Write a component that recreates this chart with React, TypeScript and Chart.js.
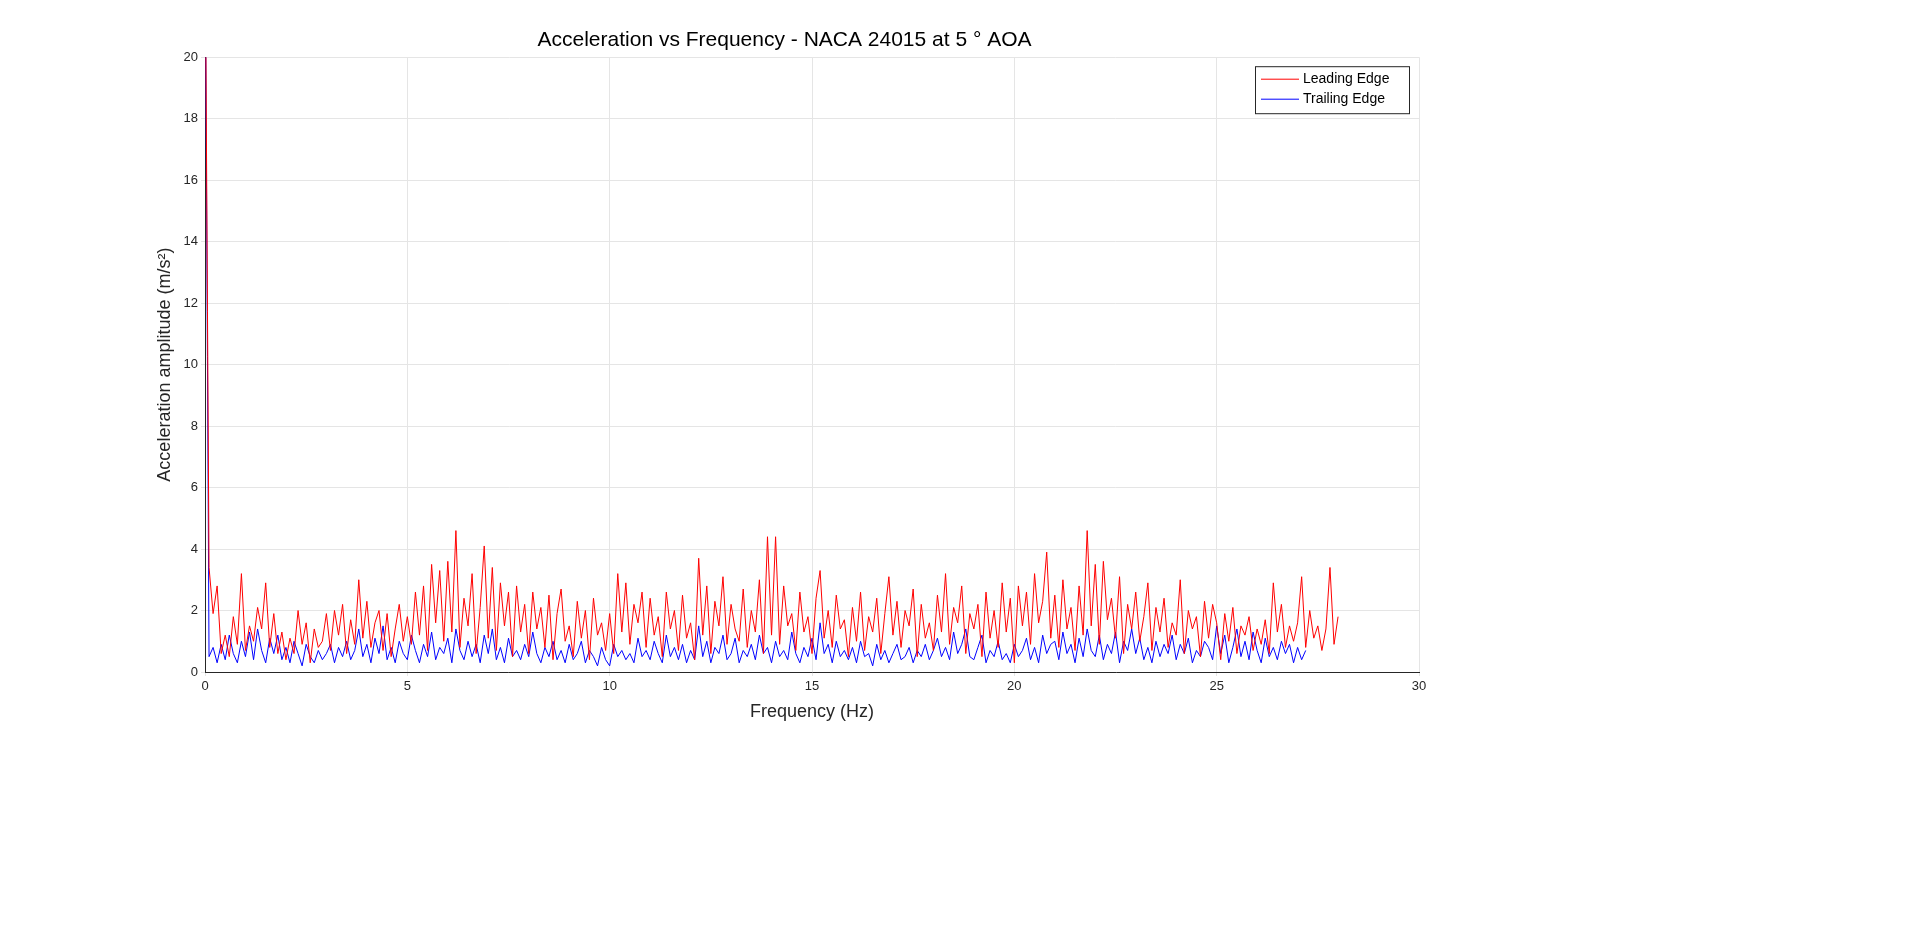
import React, { useEffect, useRef } from "react";
import { Chart, registerables } from "chart.js";

Chart.register(...registerables);

const freqStep = 0.1;

// values, one row per Hz (0.1 Hz spacing)
const leadingEdge = [
  25, 3.4, 1.9, 2.8, 0.6, 1.2, 0.5, 1.8, 0.9, 3.2,
  0.7, 1.5, 1.0, 2.1, 1.4, 2.9, 0.8, 1.9, 0.6, 1.3,
  0.4, 1.1, 0.6, 2.0, 0.9, 1.6, 0.3, 1.4, 0.8, 1.0,
  1.9, 0.7, 2.0, 1.2, 2.2, 0.6, 1.7, 0.9, 3.0, 1.1,
  2.3, 0.8, 1.6, 2.0, 0.7, 1.9, 0.5, 1.4, 2.2, 1.0,
  1.8, 0.9, 2.6, 1.2, 2.8, 0.7, 3.5, 1.6, 3.3, 1.0,
  3.6, 1.3, 4.6, 0.8, 2.4, 1.5, 3.2, 0.6, 2.1, 4.1,
  1.1, 3.4, 0.7, 2.9, 1.5, 2.6, 0.5, 2.8, 1.3, 2.2,
  0.6, 2.6, 1.4, 2.1, 0.8, 2.5, 0.4, 1.9, 2.7, 1.0,
  1.5, 0.5, 2.3, 1.1, 2.0, 0.4, 2.4, 1.2, 1.6, 0.7,
  1.9, 0.6, 3.2, 1.3, 2.9, 0.9, 2.2, 1.6, 2.6, 0.8,
  2.4, 1.2, 1.8, 0.5, 2.6, 1.4, 2.0, 0.7, 2.5, 1.1,
  1.6, 0.4, 3.7, 1.2, 2.8, 0.6, 2.3, 1.5, 3.1, 0.9,
  2.2, 1.4, 1.0, 2.7, 0.8, 2.0, 1.3, 3.0, 0.6, 4.4,
  1.2, 4.4, 0.9, 2.8, 1.5, 1.9, 0.7, 2.6, 1.3, 1.8,
  0.6, 2.4, 3.3, 1.1, 2.0, 0.8, 2.5, 1.4, 1.7, 0.5,
  2.1, 1.0, 2.6, 0.7, 1.8, 1.3, 2.4, 0.6, 1.9, 3.1,
  1.2, 2.3, 0.8, 2.0, 1.5, 2.7, 0.5, 2.2, 1.1, 1.6,
  0.7, 2.5, 1.3, 3.2, 0.9, 2.1, 1.6, 2.8, 0.6, 1.9,
  1.4, 2.2, 0.5, 2.6, 1.1, 2.0, 0.8, 2.9, 1.3, 2.4,
  0.3, 2.8, 1.5, 2.6, 0.9, 3.2, 1.6, 2.3, 3.9, 1.1,
  2.5, 0.8, 3.0, 1.4, 2.1, 0.7, 2.8, 1.2, 4.6, 1.5,
  3.5, 0.9, 3.6, 1.7, 2.4, 1.1, 3.1, 0.6, 2.2, 1.4,
  2.6, 1.0, 1.8, 2.9, 0.7, 2.1, 1.3, 2.4, 0.8, 1.6,
  1.2, 3.0, 0.6, 2.0, 1.4, 1.8, 0.5, 2.3, 1.1, 2.2,
  1.6, 0.4, 1.9, 1.0, 2.1, 0.6, 1.5, 1.2, 1.8, 0.7,
  1.4, 0.9, 1.7, 0.6, 2.9, 1.3, 2.2, 0.8, 1.5, 1.0,
  1.6, 3.1, 0.8, 2.0, 1.1, 1.5, 0.7, 1.4, 3.4, 0.9,
  1.8,
];

const trailingEdge = [
  25, 0.5, 0.8, 0.3, 0.9, 0.4, 1.2, 0.6, 0.3, 1.0,
  0.5, 1.3, 0.4, 1.4, 0.7, 0.3, 1.1, 0.6, 1.2, 0.4,
  0.8, 0.3, 1.0, 0.6, 0.2, 0.9, 0.5, 0.3, 0.7, 0.4,
  0.6, 0.9, 0.3, 0.8, 0.5, 1.0, 0.4, 0.7, 1.4, 0.5,
  0.9, 0.3, 1.1, 0.6, 1.5, 0.4, 0.8, 0.3, 1.0, 0.6,
  0.4, 1.2, 0.7, 0.3, 0.9, 0.5, 1.3, 0.4, 0.8, 0.6,
  1.1, 0.3, 1.4, 0.7, 0.4, 1.0, 0.5, 0.9, 0.3, 1.2,
  0.6, 1.4, 0.4, 0.8, 0.3, 1.1, 0.5, 0.7, 0.4, 0.9,
  0.5, 1.3, 0.6, 0.3, 0.8, 0.5, 1.0, 0.4, 0.7, 0.3,
  0.9, 0.4, 0.6, 1.0, 0.3, 0.7, 0.5, 0.2, 0.8, 0.4,
  0.2, 0.9, 0.5, 0.7, 0.4, 0.6, 0.3, 1.1, 0.5, 0.7,
  0.4, 1.0, 0.6, 0.3, 1.2, 0.5, 0.8, 0.4, 0.9, 0.3,
  0.7, 0.4, 1.5, 0.5, 1.0, 0.3, 0.8, 0.6, 1.2, 0.4,
  0.6, 1.1, 0.3, 0.7, 0.5, 0.9, 0.4, 1.2, 0.6, 0.8,
  0.3, 1.0, 0.5, 0.7, 0.4, 1.3, 0.6, 0.3, 0.8, 0.5,
  1.1, 0.4, 1.6, 0.6, 0.9, 0.3, 1.0, 0.5, 0.7, 0.4,
  0.8, 0.3, 1.0, 0.5, 0.6, 0.2, 0.9, 0.4, 0.7, 0.3,
  0.6, 0.9, 0.4, 0.5, 0.8, 0.3, 0.7, 0.5, 0.9, 0.4,
  0.7, 1.1, 0.5, 0.8, 0.4, 1.3, 0.6, 0.9, 1.4, 0.5,
  0.4, 0.8, 1.2, 0.3, 0.7, 0.5, 1.0, 0.4, 0.6, 0.3,
  0.9, 0.5, 0.7, 1.1, 0.4, 0.8, 0.3, 1.2, 0.6, 0.9,
  1.0, 0.4, 1.3, 0.6, 0.9, 0.3, 1.1, 0.5, 1.4, 0.7,
  0.5, 1.2, 0.4, 0.9, 0.6, 1.3, 0.3, 1.0, 0.7, 1.4,
  0.6, 1.1, 0.4, 0.8, 0.3, 1.0, 0.5, 0.9, 0.6, 1.2,
  0.4, 0.9, 0.6, 1.1, 0.3, 0.7, 0.5, 1.0, 0.8, 0.4,
  1.5, 0.6, 1.2, 0.3, 0.8, 1.4, 0.5, 1.0, 0.4, 1.3,
  0.7, 0.3, 1.1, 0.5, 0.8, 0.4, 1.0, 0.6, 0.9, 0.3,
  0.8, 0.4, 0.7,
];

const seriesNames = ["Leading Edge", "Trailing Edge"];
const seriesColors = ["#ff0000", "#0000ff"];

const toPoints = (values: number[]) =>
  values.map((y, i) => ({ x: Math.round(i * freqStep * 10) / 10, y }));

const FONT = "Arial, 'Liberation Sans', sans-serif";

// MATLAB style legend box inside the plot, top right
const boxLegend = {
  id: "boxLegend",
  afterDraw(chart: Chart) {
    const { ctx, chartArea } = chart;
    const w = 154;
    const h = 47;
    const x0 = chartArea.right - w - 10;
    const y0 = chartArea.top + 9;
    ctx.save();
    ctx.fillStyle = "#fff";
    ctx.fillRect(x0, y0, w, h);
    ctx.strokeStyle = "#262626";
    ctx.lineWidth = 1;
    ctx.strokeRect(x0 + 0.5, y0 + 0.5, w, h);
    ctx.font = `14px ${FONT}`;
    ctx.textBaseline = "middle";
    seriesNames.forEach((name, i) => {
      const cy = y0 + 13 + i * 20;
      ctx.strokeStyle = seriesColors[i];
      ctx.beginPath();
      ctx.moveTo(x0 + 6, cy);
      ctx.lineTo(x0 + 44, cy);
      ctx.stroke();
      ctx.fillStyle = "#000";
      ctx.fillText(name, x0 + 48, cy);
    });
    ctx.restore();
  },
};

export default function App() {
  const canvasRef = useRef<HTMLCanvasElement | null>(null);

  useEffect(() => {
    document.body.style.margin = "0";
    if (!canvasRef.current) return;
    const chart = new Chart(canvasRef.current, {
      type: "scatter",
      data: {
        datasets: [leadingEdge, trailingEdge].map((vals, i) => ({
          label: seriesNames[i],
          data: toPoints(vals),
          showLine: true,
          borderColor: seriesColors[i],
          borderWidth: 1,
          pointRadius: 0,
          tension: 0,
        })),
      },
      options: {
        animation: false,
        responsive: false,
        layout: { padding: { left: 150, right: 501, top: 0, bottom: 199 } },
        plugins: {
          legend: { display: false },
          tooltip: { enabled: false },
          title: {
            display: true,
            text: "Acceleration vs Frequency - NACA 24015 at 5 ° AOA",
            color: "#000",
            font: { family: FONT, size: 21, weight: "normal" },
            padding: { top: 28, bottom: 4 },
          },
        },
        scales: {
          x: {
            type: "linear",
            min: 0,
            max: 30,
            ticks: { stepSize: 5, color: "#262626", font: { family: FONT, size: 13 } },
            grid: { color: "#e5e5e5", tickLength: 4 },
            border: { color: "#262626" },
            title: {
              display: true,
              text: "Frequency (Hz)",
              color: "#262626",
              font: { family: FONT, size: 18 },
            },
            afterFit: (s: any) => {
              s.height = 55;
            },
          },
          y: {
            min: 0,
            max: 20,
            ticks: { stepSize: 2, color: "#262626", font: { family: FONT, size: 13 } },
            grid: { color: "#e5e5e5", tickLength: 4 },
            border: { color: "#262626" },
            title: {
              display: true,
              text: "Acceleration amplitude (m/s²)",
              color: "#262626",
              font: { family: FONT, size: 18 },
            },
            afterFit: (s: any) => {
              s.width = 55;
            },
          },
        },
      },
      plugins: [boxLegend],
    });
    return () => chart.destroy();
  }, []);

  return (
    <div style={{ width: 1920, height: 926, background: "#fff" }}>
      <canvas ref={canvasRef} width={1920} height={926} />
    </div>
  );
}
